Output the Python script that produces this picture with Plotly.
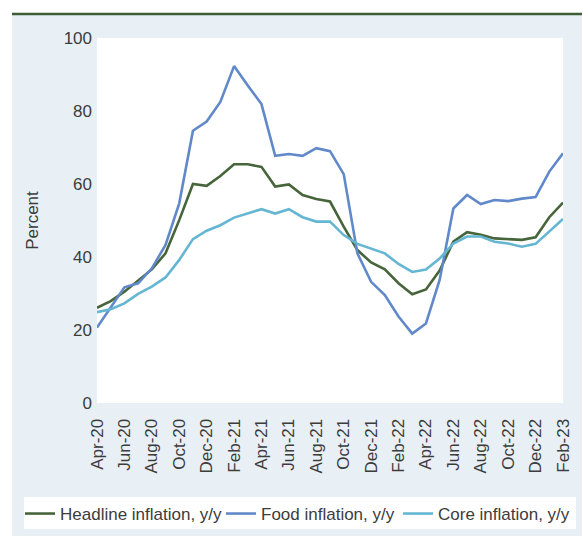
import plotly.graph_objects as go

months = ["Apr-20","May-20","Jun-20","Jul-20","Aug-20","Sep-20","Oct-20","Nov-20","Dec-20","Jan-21",
          "Feb-21","Mar-21","Apr-21","May-21","Jun-21","Jul-21","Aug-21","Sep-21","Oct-21","Nov-21",
          "Dec-21","Jan-22","Feb-22","Mar-22","Apr-22","May-22","Jun-22","Jul-22","Aug-22","Sep-22",
          "Oct-22","Nov-22","Dec-22","Jan-23","Feb-23"]

headline = [26.1, 27.9, 30.5, 33.5, 36.6, 41.0, 50.1, 60.0, 59.5, 62.2,
            65.4, 65.4, 64.7, 59.3, 59.9, 57.0, 55.9, 55.2, 48.3, 41.9,
            38.5, 36.6, 32.8, 29.8, 31.1, 36.3, 44.2, 46.8, 46.1, 45.1,
            45.0, 44.7, 45.4, 50.9, 54.9]

food = [20.7, 26.3, 31.7, 32.8, 36.9, 43.3, 54.7, 74.6, 77.1, 82.5,
        92.3, 87.0, 81.9, 67.7, 68.2, 67.7, 69.8, 69.0, 62.7, 41.0,
        33.2, 29.6, 23.7, 19.0, 21.8, 33.7, 53.3, 57.0, 54.5, 55.6,
        55.3, 56.0, 56.4, 63.4, 68.4]

core = [24.9, 25.7, 27.3, 29.9, 31.9, 34.4, 39.2, 44.9, 47.2, 48.7,
        50.8, 52.0, 53.1, 51.9, 53.1, 50.9, 49.7, 49.7, 46.0, 43.6,
        42.4, 41.0, 38.1, 35.9, 36.6, 39.6, 43.7, 45.6, 45.6, 44.2,
        43.7, 42.8, 43.6, 46.9, 50.4]

tick_labels = months[::2]

names = ["Headline inflation, y/y", "Food inflation, y/y", "Core inflation, y/y"]
colors = ["#47653a", "#6189c9", "#65b6d3"]
legend_ids = ["legend", "legend2", "legend3"]

FONT = "Liberation Sans, Arial, sans-serif"
FS = 17
TXT = "#3c3c3c"
BG = "#e8f0f6"

W, H = 582, 536
L, R, T, B = 97, 19, 38, 133
pw, ph = W - L - R, H - T - B

def px_x(px):
    return (px - L) / pw

def px_y(py):
    return (H - B - py) / ph

fig = go.Figure()
for nm, vals, col, lg in zip(names, [headline, food, core], colors, legend_ids):
    fig.add_trace(go.Scatter(x=months, y=vals, name=nm, mode="lines", legend=lg,
                             line=dict(color=col, width=2.6)))

shapes = [
    dict(type="rect", xref="paper", yref="paper", x0=px_x(-5), x1=px_x(W + 5), y0=px_y(14), y1=px_y(-5),
         fillcolor="white", line=dict(width=0), layer="below"),
    dict(type="rect", xref="paper", yref="paper", x0=px_x(-5), x1=px_x(12), y0=px_y(H + 5), y1=px_y(-5),
         fillcolor="white", line=dict(width=0), layer="below"),
    dict(type="line", xref="paper", yref="paper", x0=px_x(12), x1=px_x(W), y0=px_y(14), y1=px_y(14),
         line=dict(color="#3e5c36", width=2.5), layer="above"),
    dict(type="rect", xref="paper", yref="paper", x0=px_x(24), x1=px_x(576), y0=px_y(497), y1=px_y(529),
         fillcolor="white", line=dict(width=0), layer="below"),
]

leg_common = dict(orientation="h", yanchor="middle", y=px_y(514), xanchor="left",
                  bgcolor="rgba(0,0,0,0)", font=dict(family=FONT, size=FS, color=TXT),
                  itemwidth=30, borderwidth=0)

fig.update_layout(
    width=W, height=H,
    margin=dict(l=L, r=R, t=T, b=B, autoexpand=False),
    paper_bgcolor=BG,
    plot_bgcolor="white",
    font=dict(family=FONT, size=FS, color=TXT),
    shapes=shapes,
    showlegend=True,
    legend=dict(leg_common, x=px_x(20)),
    legend2=dict(leg_common, x=px_x(221)),
    legend3=dict(leg_common, x=px_x(398)),
)

fig.update_xaxes(type="category", tickmode="array", tickvals=tick_labels, ticktext=tick_labels,
                 tickangle=-90, showgrid=False, zeroline=False, showline=False,
                 ticks="outside", ticklen=0, ticklabelstandoff=8,
                 tickfont=dict(family=FONT, size=FS, color=TXT))

fig.update_yaxes(range=[0, 100], tickvals=[0, 20, 40, 60, 80, 100], showgrid=False, zeroline=False,
                 showline=False, ticks="", ticklabelstandoff=4,
                 title=dict(text="Percent", standoff=20, font=dict(family=FONT, size=FS, color=TXT)),
                 tickfont=dict(family=FONT, size=FS, color=TXT))

fig.write_html("out.html", config={"displayModeBar": False},
               post_script="document.body.style.margin='0';")
